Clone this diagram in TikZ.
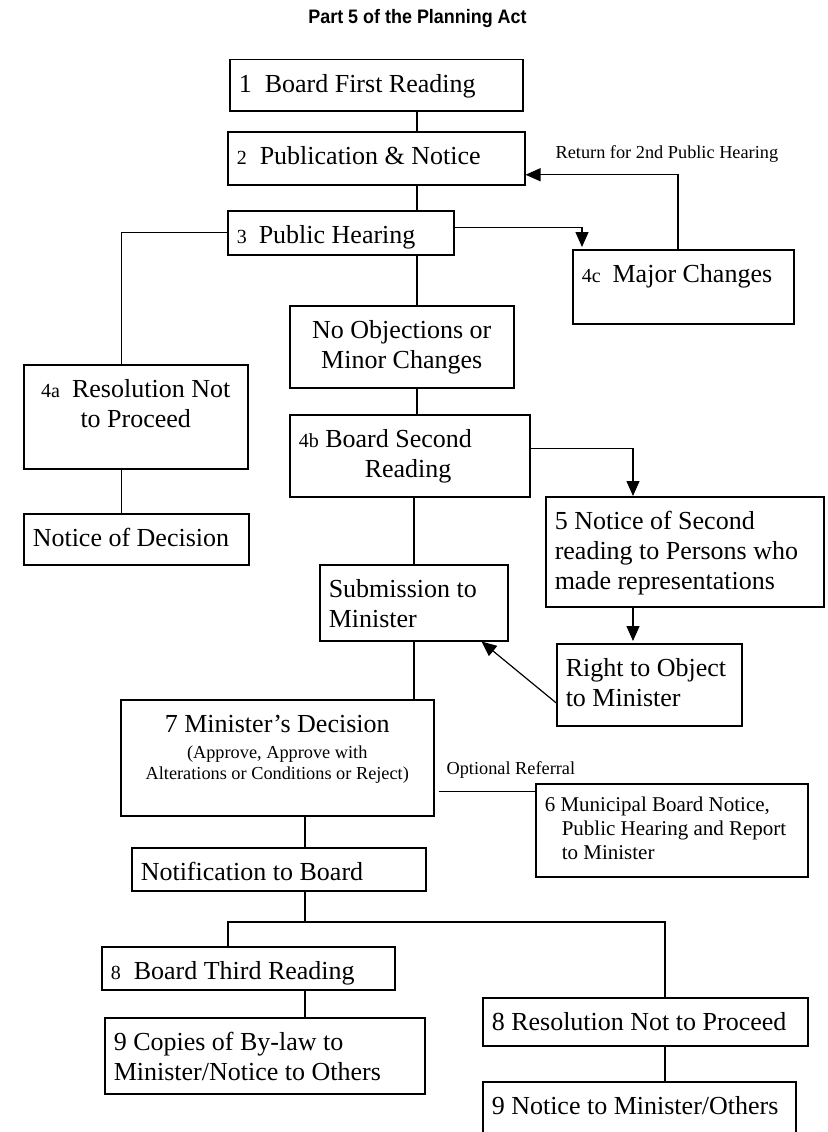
\documentclass[tikz,border=0pt]{standalone}
\usepackage{fontspec}
\setmainfont{Liberation Serif}
\newfontfamily\titlefont{Liberation Sans}[FakeStretch=0.92]
\usepackage{tikz}
\usetikzlibrary{arrows.meta}

\newcommand{\bigfont}{\fontsize{26}{30}\selectfont}
\newcommand{\midfont}{\fontsize{21}{24}\selectfont}
\newcommand{\notefont}{\fontsize{18.3}{21}\selectfont}
\newcommand{\smallno}[1]{{\fontsize{20}{20}\selectfont #1}}

\begin{document}
\begin{tikzpicture}[x=1pt,y=-1pt,>={Triangle[length=15pt,width=13pt]},
            line width=1.2pt]
        \tikzstyle{stage}=[draw=black,line width=1.5pt,anchor=north west,
            inner xsep=9pt,inner ysep=0pt,text height=33pt,align=flush left,font=\bigfont]
        \tikzstyle{note}=[font=\notefont,inner sep=0pt]

        \useasboundingbox (0,0) rectangle (827,1132);

        \node[font=\titlefont\fontsize{19.5}{22}\selectfont\bfseries,anchor=base] (title) at (417.5,24) {Part 5 of the Planning Act};

        \node[stage,text width=275pt,text depth=18pt] (first) at (229,59) {1\hspace{13pt}Board First Reading};
        \node[stage,text width=279pt,text depth=20pt] (pub) at (227,131) {\smallno{2}\hspace{13pt}Publication \& Notice};
        \node[stage,text width=208pt,text depth=11pt] (hear) at (227,210) {\smallno{3}\hspace{12pt}Public Hearing};
        \node[stage,text width=203pt,text depth=41pt] (major) at (572,249) {\smallno{4c}\hspace{12pt}Major Changes};
        \node[stage,text width=206pt,text depth=49pt,align=flush center] (noobj) at (289,305) {No Objections or\\ Minor Changes};
        \node[stage,text width=206pt,text depth=71pt,align=flush center] (resa) at (23,364) {\smallno{4a}\hspace{12pt}Resolution Not\\ to Proceed};
        \node[stage,text width=207pt,text depth=18pt] (decision) at (23,513) {Notice of Decision};
        \node[stage,text width=222pt,text depth=49pt] (secondread) at (289,414) {\smallno{4b} Board Second\\ \hspace*{66pt}Reading};
        \node[stage,text width=260pt,text depth=77pt] (notice5) at (545,496) {5 Notice of Second\\ reading to Persons who\\ made representations};
        \node[stage,text width=167pt,text depth=49pt] (object) at (556,643) {Right to Object\\ to Minister};
        \node[stage,text width=170pt,text depth=43pt] (submit) at (319,564) {Submission to\\ Minister};
        \node[stage,text width=295pt,text depth=83pt,align=flush center] (decide7) at (120,699) {7 Minister’s Decision\\[-4pt]
            {\notefont\begin{tabular}[t]{@{}c@{}}(Approve, Approve with\\ Alterations or Conditions or Reject)\end{tabular}}};
        \node[stage,text width=254pt,text height=28pt,text depth=65pt,font=\midfont] (municipal) at (535,783) {6 Municipal Board Notice,\\ \hspace*{17pt}Public Hearing and Report\\ \hspace*{17pt}to Minister};
        \node[stage,text width=276pt,text depth=10pt] (notify) at (131,847) {Notification to Board};
        \node[stage,text width=275pt,text depth=10pt] (third) at (101,946) {\smallno{8}\hspace{13pt}Board Third Reading};
        \node[stage,text width=302pt,text depth=43pt] (copies) at (104,1017) {9 Copies of By-law to\\ Minister/Notice to Others};
        \node[stage,text width=307pt,text depth=15pt] (resolve8) at (482,997) {8 Resolution Not to Proceed};
        \node[stage,text width=295pt,text depth=37pt] (tellmin) at (482,1081) {9 Notice to Minister/Others};

        \node[note,anchor=base west] (returnlbl) at (555,158) {Return for 2nd Public Hearing};
        \node[note,anchor=base west] (optlbl) at (446,774) {Optional Referral};

        \coordinate (spine) at (417,0);
        \coordinate (spineb) at (414,0);
        \coordinate (spinec) at (305,0);
        \coordinate (branch) at (633,0);
        \coordinate (forkl) at (228,922);
        \coordinate (forkr) at (665,922);

        \draw (first.south -| spine) -- (pub.north -| spine);
        \draw (pub.south -| spine) -- (hear.north -| spine);
        \draw (hear.south -| spine) -- (noobj.north -| spine);
        \draw (noobj.south -| spine) -- (secondread.north -| spine);
        \draw (secondread.south -| spineb) -- (submit.north -| spineb);
        \draw (submit.south -| spineb) -- (decide7.north -| spineb);

        \draw (hear.west) -| ([xshift=-14pt]resa.north);
        \draw ([xshift=-14pt]resa.south) -- ([xshift=-14pt]resa.south |- decision.north);

        \draw[->,shorten >=2pt] ([yshift=5pt]hear.east) -| ([xshift=10pt]major.north west);
        \draw[->] ([xshift=106pt]major.north west) |- ([yshift=-16.5pt]pub.east);

        \draw[->] ([yshift=7.5pt]secondread.east) -| (notice5.north -| branch);
        \draw[->,shorten >=2pt] (notice5.south -| branch) -- (object.north -| branch);
        \draw[->] ([yshift=-18pt]object.west) -- ([xshift=-27pt]submit.south east);

        \draw[shorten <=4pt] ([yshift=-34pt]decide7.east) -- ([yshift=-34pt]decide7.east -| municipal.west);
        \draw (decide7.south -| spinec) -- (notify.north -| spinec);
        \draw (notify.south -| spinec) -- (spinec |- forkl);
        \draw (third.north -| forkl) -- (forkl) -- (forkr) -- (resolve8.north -| forkr);
        \draw (third.south -| spinec) -- (copies.north -| spinec);
        \draw (resolve8.south -| forkr) -- (tellmin.north -| forkr);
    \end{tikzpicture}
\end{document}
